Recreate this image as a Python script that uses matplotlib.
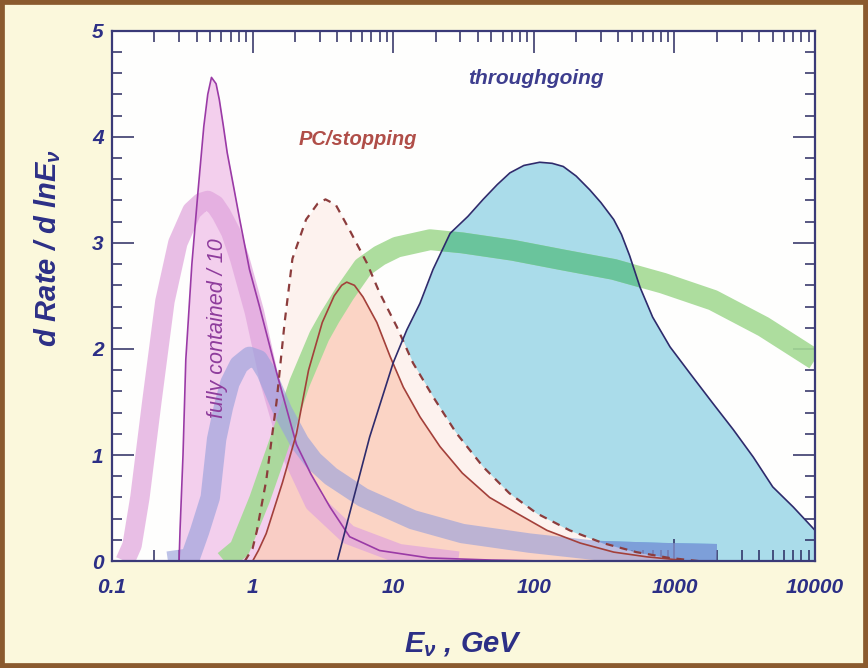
import numpy as np
import matplotlib.pyplot as plt
from matplotlib.patches import Rectangle
from matplotlib.ticker import FixedLocator, MultipleLocator, NullFormatter

plt.rcParams['font.family'] = ['Liberation Sans', 'DejaVu Sans']
plt.rcParams['mathtext.fontset'] = 'custom'
plt.rcParams['mathtext.it'] = 'Liberation Sans:bold:italic'
plt.rcParams['mathtext.rm'] = 'Liberation Sans:bold:italic'

# fully contained / 10 (thin purple curve, pink fill)
fc_e = [0.30, 0.305, 0.32, 0.335, 0.37, 0.41, 0.45, 0.48, 0.51, 0.55, 0.58, 0.62, 0.66, 0.74, 0.81,
        0.95, 1.12, 1.48, 2.05, 2.6, 3.55, 4.9, 8.0, 18, 50, 130, 1000]
fc_y = [0.0, 0.3, 1.0, 1.9, 2.8, 3.5, 4.1, 4.4, 4.56, 4.5, 4.35, 4.1, 3.85, 3.5, 3.22,
        2.75, 2.4, 1.78, 1.1, 0.82, 0.51, 0.23, 0.1, 0.03, 0.01, 0.0, 0.0]

# thick pink band
pb_e = [0.124, 0.139, 0.158, 0.192, 0.238, 0.294, 0.37, 0.43, 0.48, 0.54, 0.60, 0.70, 0.81, 1.03,
        1.32, 1.83, 2.75, 4.8, 11, 29]
pb_y = [0.0, 0.15, 0.6, 1.5, 2.45, 3.0, 3.3, 3.38, 3.4, 3.36, 3.27, 3.1, 2.85, 2.35,
        1.7, 1.05, 0.55, 0.25, 0.07, 0.0]

# thick grey-blue band
bb_e = [0.25, 0.36, 0.42, 0.50, 0.555, 0.62, 0.69, 0.80, 0.95, 1.1, 1.25, 1.63, 2.16, 2.7, 3.6,
        6.1, 13.8, 31, 93, 280, 830, 2000]
bb_y = [0.0, 0.03, 0.28, 0.6, 1.15, 1.45, 1.68, 1.85, 1.93, 1.9, 1.78, 1.42, 1.12, 0.95, 0.8,
        0.6, 0.39, 0.26, 0.17, 0.1, 0.08, 0.07]

# thick green band
gb_e = [0.63, 0.81, 1.12, 1.63, 2.16, 2.98, 3.55, 4.5, 6.1, 8.0, 10.6, 18.3, 31, 71, 160, 370,
        830, 1880, 4300, 10000]
gb_y = [0.0, 0.12, 0.58, 1.2, 1.68, 2.12, 2.3, 2.52, 2.77, 2.88, 2.96, 3.03, 3.0, 2.93, 2.84,
        2.75, 2.62, 2.46, 2.21, 1.9]

# PC/stopping, dashed
pd_e = [0.88, 1.0, 1.07, 1.25, 1.48, 1.69, 1.92, 2.4, 2.9, 3.3, 3.9, 4.9, 6.5, 8.0, 10.6, 13.8,
        19.2, 28, 43.5, 67, 105, 180, 310, 535, 920, 1500]
pd_y = [0.0, 0.12, 0.28, 0.76, 1.5, 2.25, 2.85, 3.22, 3.37, 3.41, 3.36, 3.12, 2.81, 2.53, 2.21,
        1.87, 1.55, 1.21, 0.89, 0.64, 0.45, 0.29, 0.17, 0.085, 0.03, 0.0]

# PC/stopping, solid
ps_e = [1.0, 1.1, 1.25, 1.63, 2.05, 2.5, 3.13, 3.8, 4.3, 4.67, 5.3, 6.1, 7.65, 9.5, 11.8, 15.5,
        21.5, 31, 48.5, 76, 124, 214, 370, 640, 1100]
ps_y = [0.0, 0.1, 0.26, 0.74, 1.2, 1.8, 2.25, 2.5, 2.6, 2.63, 2.6, 2.49, 2.25, 1.93, 1.64, 1.36,
        1.08, 0.83, 0.6, 0.45, 0.29, 0.17, 0.085, 0.04, 0.01]

# throughgoing
tg_e = [4.0, 4.9, 6.8, 10, 12.5, 15.5, 19.2, 25.4, 34, 43.6, 55, 67.6, 85, 110, 135, 162, 200,
        250, 300, 370, 420, 480, 570, 700, 930, 1290, 1870, 2620, 3640, 5000, 7000, 10000]
tg_y = [0.0, 0.45, 1.17, 1.87, 2.18, 2.43, 2.75, 3.09, 3.25, 3.41, 3.55, 3.66, 3.73, 3.76, 3.75,
        3.72, 3.63, 3.5, 3.38, 3.22, 3.08, 2.88, 2.58, 2.3, 2.02, 1.77, 1.49, 1.24, 0.98, 0.7,
        0.51, 0.29]

xticks = [0.1, 1, 10, 100, 1000, 10000]
xticklabels = ['0.1', '1', '10', '100', '1000', '10000']

navy = '#2c2f86'

fig = plt.figure(figsize=(8.68, 6.68), dpi=100, facecolor='#fbf8dc')
ax = fig.add_axes([0.129, 0.160, 0.810, 0.794])
ax.set_facecolor('#fefefd')
ax.set_xscale('log')
ax.set_xlim(0.1, 10000)
ax.set_ylim(0, 5)

bw = 14

# fills (blue first, the others lie over it)
blue = ax.fill_between(tg_e, 0, tg_y, color='#aadcea', lw=0, zorder=1)
clip = blue.get_paths()[0]
b2, = ax.plot(bb_e, bb_y, color='#4a9ad6', lw=bw, solid_capstyle='butt', zorder=1.5)
b2.set_clip_path(clip, ax.transData)
ax.fill_between(pd_e, 0, pd_y, color='#fdf2ee', lw=0, zorder=2)
ax.fill_between(fc_e, 0, fc_y, color='#f3cfed', lw=0, zorder=3)
ax.fill_between(ps_e, 0, ps_y, color='#fbcdbb', alpha=0.8, lw=0, zorder=4)

# thick bands
ax.plot(pb_e, pb_y, color='#e0a4dc', lw=bw, alpha=0.7, solid_capstyle='butt', zorder=5)
ax.plot(gb_e, gb_y, color='#a4da94', lw=bw + 1, alpha=0.9, solid_capstyle='butt', zorder=6)
g2, = ax.plot(gb_e, gb_y, color='#6ac49c', lw=bw + 1, solid_capstyle='butt', zorder=6.5)
g2.set_clip_path(clip, ax.transData)
ax.plot(bb_e, bb_y, color='#9aa2dc', lw=bw, alpha=0.65, solid_capstyle='butt', zorder=7)

# lines
ax.plot(fc_e, fc_y, color='#9a3aa6', lw=1.2, zorder=8)
ax.plot(ps_e, ps_y, color='#a3403a', lw=1.2, zorder=8)
ax.plot(pd_e, pd_y, color='#8c3c3c', lw=1.6, ls=(0, (3.5, 3)), zorder=8)
ax.plot(tg_e, tg_y, color='#2e2b6c', lw=1.2, zorder=8)

# labels in the plot
ax.text(104, 4.55, 'throughgoing', color='#3d3d8e', fontsize=15, fontweight='bold',
        style='italic', ha='center', va='center', zorder=9)
ax.text(5.6, 3.97, 'PC/stopping', color='#b04e48', fontsize=14.5, fontweight='bold',
        style='italic', ha='center', va='center', zorder=9)
ax.text(0.567, 2.2, 'fully contained / 10', color='#8e3c9c', fontsize=15.5, style='italic',
        rotation=90, ha='center', va='center', zorder=9)

# axes styling
for s in ax.spines.values():
    s.set_color('#3a3a78')
    s.set_linewidth(1.6)
    s.set_zorder(10)
ax.xaxis.set_major_locator(FixedLocator(xticks))
ax.set_xticklabels(xticklabels)
ax.xaxis.set_minor_locator(FixedLocator(
    [m * d for d in [0.1, 1, 10, 100, 1000] for m in range(2, 10)]))
ax.xaxis.set_minor_formatter(NullFormatter())
ax.yaxis.set_major_locator(MultipleLocator(1))
ax.yaxis.set_minor_locator(MultipleLocator(0.2))
ax.tick_params(which='both', direction='in', top=True, right=True, color='#2a2a60', width=1.1)
ax.tick_params(axis='x', which='major', length=16, pad=12)
ax.tick_params(axis='x', which='minor', length=8)
ax.tick_params(axis='y', which='major', length=16, pad=6)
ax.tick_params(axis='y', which='minor', length=7)
for lab in ax.get_xticklabels() + ax.get_yticklabels():
    lab.set_fontsize(15)
    lab.set_fontweight('bold')
    lab.set_fontstyle('italic')
    lab.set_color(navy)

ax.set_xlabel(r'E$_{\nu}$ , GeV', fontsize=21, fontweight='bold', style='italic',
              color=navy, va='center')
ax.xaxis.set_label_coords(0.5, -0.158)
ax.set_ylabel(r'd Rate / d lnE$_{\nu}$', fontsize=21, fontweight='bold', style='italic',
              color=navy, va='center')
ax.yaxis.set_label_coords(-0.092, 0.59)

fig.patches.append(Rectangle((0, 0), 1, 1, transform=fig.transFigure, fill=False,
                             edgecolor='#8a5a2e', linewidth=7))

fig.savefig('out.png', dpi=100, facecolor=fig.get_facecolor())
